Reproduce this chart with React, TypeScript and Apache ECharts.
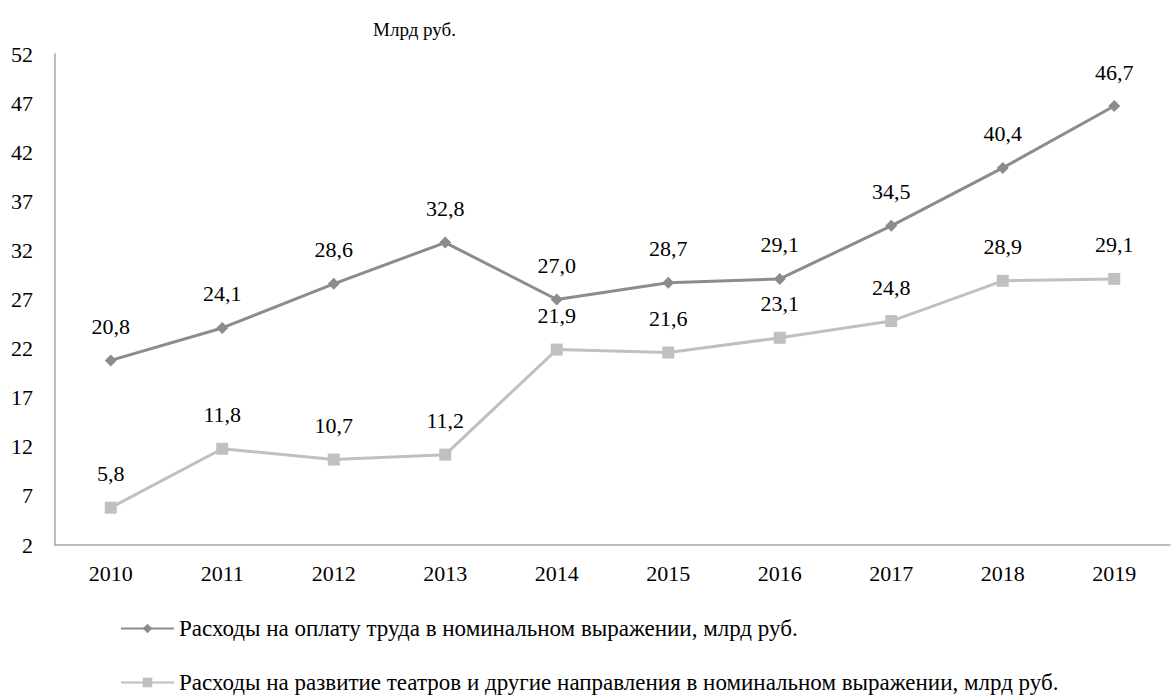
import React, { useEffect, useRef } from "react";
import * as echarts from "echarts";

const years = ["2010", "2011", "2012", "2013", "2014", "2015", "2016", "2017", "2018", "2019"];
const wages = [20.8, 24.1, 28.6, 32.8, 27.0, 28.7, 29.1, 34.5, 40.4, 46.7];
const theatres = [5.8, 11.8, 10.7, 11.2, 21.9, 21.6, 23.1, 24.8, 28.9, 29.1];
const seriesNames = [
  "Расходы на оплату труда в номинальном выражении, млрд руб.",
  "Расходы на развитие театров и другие направления в номинальном выражении, млрд руб.",
];
const unitLabel = "Млрд руб.";

const FONT = "Liberation Serif";

export default function App() {
  const ref = useRef<HTMLDivElement>(null);
  useEffect(() => {
    if (!ref.current) return;
    const chart = echarts.init(ref.current, undefined, { renderer: "svg" });
    const label = {
      show: true,
      position: "top" as const,
      distance: 17,
      fontFamily: FONT,
      fontSize: 22,
      color: "#000",
      formatter: (p: any) => Number(p.value).toFixed(1).replace(".", ","),
    };
    const legendBase = {
      orient: "horizontal" as const,
      left: 115,
      itemWidth: 53,
      itemHeight: 12,
      textStyle: { fontFamily: FONT, fontSize: 23, color: "#000" },
    };
    chart.setOption({
      animation: false,
      backgroundColor: "#fff",
      textStyle: { fontFamily: FONT, fontSize: 22 },
      grid: { left: 55, right: 5, top: 54, bottom: 150, containLabel: false },
      graphic: [
        {
          type: "text",
          left: 373,
          top: 20,
          style: { text: unitLabel, fontFamily: FONT, fontSize: 19, fill: "#000" },
        },
      ],
      xAxis: {
        type: "category",
        data: years,
        boundaryGap: true,
        axisLine: { lineStyle: { color: "#a6a6a6", width: 1.5 } },
        axisTick: { show: false },
        axisLabel: { fontFamily: FONT, fontSize: 22, color: "#000", margin: 17 },
      },
      yAxis: {
        type: "value",
        min: 2,
        max: 52,
        interval: 5,
        axisLine: { show: true, lineStyle: { color: "#a6a6a6", width: 1.5 } },
        axisTick: { show: false },
        splitLine: { show: false },
        axisLabel: { fontFamily: FONT, fontSize: 22, color: "#000", margin: 22 },
      },
      legend: [
        { ...legendBase, top: 612, data: [seriesNames[0]] },
        { ...legendBase, top: 666, data: [seriesNames[1]] },
      ],
      series: [
        {
          name: seriesNames[0],
          type: "line",
          data: wages,
          symbol: "diamond",
          symbolSize: 12,
          lineStyle: { color: "#8c8c8c", width: 3 },
          itemStyle: { color: "#8c8c8c" },
          label,
        },
        {
          name: seriesNames[1],
          type: "line",
          data: theatres,
          symbol: "rect",
          symbolSize: 12,
          lineStyle: { color: "#c0c0c0", width: 3 },
          itemStyle: { color: "#c0c0c0" },
          label,
        },
      ],
    });
    return () => chart.dispose();
  }, []);
  return (
    <div
      ref={ref}
      style={{ position: "fixed", left: 0, top: 0, width: 1175, height: 695 }}
    />
  );
}
